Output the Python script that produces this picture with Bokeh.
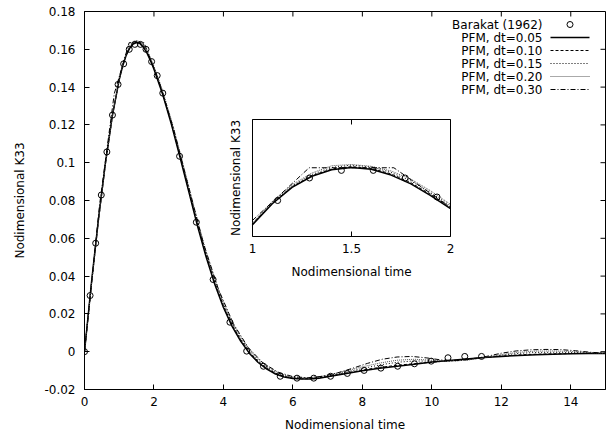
import math
from bokeh.plotting import figure
from bokeh.models import Range1d, FixedTicker
from bokeh.embed import file_html
from bokeh.resources import INLINE
from bokeh.core.properties import value

# ---------------- data ----------------
barakat_t = [0.0, 0.161, 0.322, 0.483, 0.644, 0.805, 0.966, 1.127, 1.288, 1.449,
             1.61, 1.771, 1.932, 2.093, 2.254, 2.737, 3.22, 3.703, 4.186, 4.669,
             5.152, 5.635, 6.118, 6.601, 7.084, 7.567, 8.05, 8.533, 9.016, 9.499,
             9.982, 10.465, 10.948, 11.431]
barakat_k33 = [0.0, 0.0297, 0.0574, 0.0829, 0.1057, 0.1252, 0.1414, 0.1523, 0.1600, 0.1626,
               0.1626, 0.1600, 0.1535, 0.1461, 0.1368, 0.1034, 0.0685, 0.0382, 0.0156, 0.0003,
               -0.0077, -0.0130, -0.0140, -0.0140, -0.0130, -0.0115, -0.0099, -0.0087, -0.0077, -0.0064,
               -0.0050, -0.0032, -0.0025, -0.0025]

pfm_t = [0.0, 0.2, 0.4, 0.6, 0.8,
         1.0, 1.1, 1.2, 1.3, 1.4, 1.5, 1.6, 1.7, 1.8, 1.9, 2.0,
         2.25, 2.5, 2.75, 3.0, 3.25, 3.5, 3.75, 4.0, 4.25, 4.5, 4.75, 5.0, 5.25, 5.5, 5.75,
         6.0, 6.25, 6.5, 6.75, 7.0,
         7.5, 8.0, 8.5, 9.0, 9.5, 10.0, 10.5, 11.0, 11.5, 12.0, 12.5, 13.0, 13.5, 14.0, 14.5, 15.0]
pfm_dt005 = [0.0, 0.0365, 0.0698, 0.0995, 0.1246,
             0.1440, 0.1512, 0.1568, 0.1606, 0.1628, 0.1636, 0.1630, 0.1610, 0.1580, 0.1540, 0.1495,
             0.1362, 0.1204, 0.1029, 0.0848, 0.0667, 0.0502, 0.0357, 0.0234, 0.0134, 0.0055, -0.0009,
             -0.0057, -0.0092, -0.0118, -0.0134, -0.0142, -0.0145, -0.0144, -0.0140, -0.0133,
             -0.0117, -0.0101, -0.0088, -0.0077, -0.0066, -0.0055, -0.0046, -0.0038, -0.0031, -0.0025,
             -0.0020, -0.0016, -0.0013, -0.0011, -0.0010, -0.0009]
pfm_dt010 = [0.0, 0.0360, 0.0693, 0.0991, 0.1243,
             0.1442, 0.1514, 0.1570, 0.1608, 0.1631, 0.1639, 0.1633, 0.1614, 0.1584, 0.1544, 0.1499,
             0.1367, 0.1210, 0.1036, 0.0856, 0.0676, 0.0511, 0.0366, 0.0243, 0.0142, 0.0063, -0.0002,
             -0.0051, -0.0087, -0.0114, -0.0131, -0.0140, -0.0143, -0.0143, -0.0138, -0.0131,
             -0.0114, -0.0097, -0.0083, -0.0072, -0.0063, -0.0056, -0.0048, -0.0039, -0.0030, -0.0023,
             -0.0017, -0.0013, -0.0011, -0.0010, -0.0009, -0.0009]
pfm_dt015 = [0.0, 0.0356, 0.0690, 0.0989, 0.1242,
             0.1444, 0.1517, 0.1573, 0.1612, 0.1636, 0.1644, 0.1638, 0.1619, 0.1590, 0.1550, 0.1505,
             0.1374, 0.1219, 0.1046, 0.0866, 0.0687, 0.0521, 0.0376, 0.0252, 0.0150, 0.0070, 0.0006,
             -0.0044, -0.0081, -0.0109, -0.0127, -0.0137, -0.0141, -0.0140, -0.0135, -0.0128,
             -0.0109, -0.0089, -0.0070, -0.0056, -0.0049, -0.0050, -0.0051, -0.0044, -0.0032, -0.0019,
             -0.0009, -0.0004, -0.0003, -0.0004, -0.0006, -0.0008]
pfm_dt020 = [0.0, 0.0352, 0.0687, 0.0988, 0.1242,
             0.1446, 0.1520, 0.1577, 0.1617, 0.1642, 0.1646, 0.1640, 0.1624, 0.1596, 0.1556, 0.1510,
             0.1381, 0.1227, 0.1055, 0.0875, 0.0697, 0.0531, 0.0385, 0.0260, 0.0157, 0.0077, 0.0012,
             -0.0038, -0.0076, -0.0104, -0.0123, -0.0134, -0.0138, -0.0137, -0.0132, -0.0124,
             -0.0103, -0.0080, -0.0060, -0.0045, -0.0040, -0.0045, -0.0050, -0.0045, -0.0031, -0.0015,
             -0.0003, 0.0003, 0.0004, 0.0001, -0.0004, -0.0008]
pfm30_t = [0.0, 0.429, 0.857, 1.0, 1.286, 1.714, 2.0, 2.143, 2.571, 3.0, 3.429, 3.857, 4.286,
           4.714, 5.143, 5.571, 6.0, 6.429, 6.857, 7.286, 7.714, 8.143, 8.571, 9.0, 9.429,
           9.857, 10.286, 10.714, 11.143, 11.571, 12.0, 12.429, 12.857, 13.286, 13.714,
           14.143, 14.571, 15.0]
pfm_dt030 = [0.0, 0.0770, 0.1365, 0.1455, 0.1635, 0.1635, 0.1500, 0.1432, 0.1175, 0.0870,
             0.0570, 0.0330, 0.0148, 0.0022, -0.0060, -0.0108, -0.0132, -0.0138, -0.0130,
             -0.0112, -0.0088, -0.0062, -0.0040, -0.0028, -0.0025, -0.0033, -0.0044, -0.0047,
             -0.0040, -0.0025, -0.0008, 0.0004, 0.0010, 0.0012, 0.0011, 0.0005, -0.0003, -0.0008]

legend_labels = ["Barakat (1962)", "PFM, dt=0.05", "PFM, dt=0.10",
                 "PFM, dt=0.15", "PFM, dt=0.20", "PFM, dt=0.30"]

x_ticks = [0, 2, 4, 6, 8, 10, 12, 14]
x_tick_labels = ["0", "2", "4", "6", "8", "10", "12", "14"]
y_ticks = [-0.02, 0.0, 0.02, 0.04, 0.06, 0.08, 0.1, 0.12, 0.14, 0.16, 0.18]
y_tick_labels = ["-0.02", "0", "0.02", "0.04", "0.06", "0.08", "0.1", "0.12", "0.14", "0.16", "0.18"]
inset_ticks = [1.0, 1.5, 2.0]
inset_tick_labels = ["1", "1.5", "2"]

x_title = "Nodimensional time"
y_title = "Nodimensional K33"

X_LIM = (0.0, 15.0)
Y_LIM = (-0.02, 0.18)
INSET_XLIM = (1.0, 2.0)
INSET_YLIM = (0.14, 0.18)

# ---------------- layout / style constants ----------------
W, H = 613, 438
FL, FR, FT, FB = 84, 605, 11, 389          # main frame, canvas pixels
IL, IR, IT, IB = 252, 450, 119, 236         # inset frame, canvas pixels
FONT = "DejaVu Sans"
FS = "12px"
TICK = 5

series = [
    (pfm_t, pfm_dt005, dict(line_width=1.5, line_dash="solid", line_color="black")),
    (pfm_t, pfm_dt010, dict(line_width=1.0, line_dash="3 2", line_color="black")),
    (pfm_t, pfm_dt015, dict(line_width=1.0, line_dash="1 2", line_color="black")),
    (pfm_t, pfm_dt020, dict(line_width=1.0, line_dash="1 1", line_color="#555555")),
    (pfm30_t, pfm_dt030, dict(line_width=1.0, line_dash="5 2 1 2", line_color="black")),
]

p = figure(width=W, height=H, output_backend="svg", toolbar_location=None,
           x_range=Range1d(*X_LIM), y_range=Range1d(*Y_LIM),
           min_border_left=FL, min_border_right=W - FR,
           min_border_top=FT, min_border_bottom=H - FB)
p.background_fill_color = "white"
p.border_fill_color = "white"
p.outline_line_color = "black"
p.outline_line_width = 1
p.outline_line_alpha = 1.0
p.xgrid.visible = False
p.ygrid.visible = False

def style_axis(ax, ticks, labels):
    ax.ticker = FixedTicker(ticks=ticks)
    ax.major_tick_in = TICK
    ax.major_tick_out = 0
    ax.major_tick_line_color = "black"
    ax.minor_tick_line_color = None
    ax.major_label_text_font = FONT
    ax.major_label_text_font_size = FS
    ax.major_label_text_color = "black"
    ax.major_label_overrides = dict(zip(ticks, labels))
    ax.axis_line_color = "black"
    ax.axis_label_text_font = FONT
    ax.axis_label_text_font_size = FS
    ax.axis_label_text_font_style = "normal"
    ax.axis_label_text_color = "black"

xa = p.xaxis[0]
ya = p.yaxis[0]
style_axis(xa, x_ticks, x_tick_labels)
style_axis(ya, y_ticks, y_tick_labels)
xa.axis_label = x_title
ya.axis_label = y_title
xa.major_label_standoff = 7
xa.axis_label_standoff = 9
ya.major_label_standoff = 9
ya.axis_label_standoff = 14

# mirrored inward ticks on the top and right borders
nx, ny = len(x_ticks), len(y_ticks)
p.ray(x=x_ticks, y=[Y_LIM[1]] * nx, length=TICK, length_units="screen",
      angle=[-math.pi / 2] * nx, line_color="black", line_width=1)
p.ray(x=[X_LIM[1]] * ny, y=y_ticks, length=TICK, length_units="screen",
      angle=[math.pi] * ny, line_color="black", line_width=1)

# extra ranges: canvas pixel space and inset data space
ixs = (INSET_XLIM[1] - INSET_XLIM[0]) / (IR - IL)
iys = (INSET_YLIM[1] - INSET_YLIM[0]) / (IB - IT)
p.extra_x_ranges = {
    "px": Range1d(FL, FR),
    "ix": Range1d(INSET_XLIM[0] - (IL - FL) * ixs, INSET_XLIM[1] + (FR - IR) * ixs),
}
p.extra_y_ranges = {
    "py": Range1d(FB, FT),
    "iy": Range1d(INSET_YLIM[0] - (FB - IB) * iys, INSET_YLIM[1] + (IT - FT) * iys),
}

# ---------------- main plot ----------------
for t, k, st in series:
    p.line(t, k, **st)
p.scatter(barakat_t, barakat_k33, marker="circle", size=6, fill_color=None,
          line_color="black", line_width=1)

# ---------------- inset ----------------
IR_KW = dict(x_range_name="ix", y_range_name="iy")
p.quad(left=[INSET_XLIM[0]], right=[INSET_XLIM[1]], bottom=[INSET_YLIM[0]], top=[INSET_YLIM[1]],
       fill_color="white", line_color="black", line_width=1, **IR_KW)

def in_inset(t, k):
    pts = [(a, b) for a, b in zip(t, k) if INSET_XLIM[0] <= a <= INSET_XLIM[1]]
    return [a for a, _ in pts], [b for _, b in pts]

for t, k, st in series:
    it, ik = in_inset(t, k)
    p.line(it, ik, **st, **IR_KW)
bt, bk = in_inset(barakat_t, barakat_k33)
p.scatter(bt, bk, marker="circle", size=6, fill_color=None, line_color="black",
          line_width=1, **IR_KW)

n = len(inset_ticks)
p.ray(x=inset_ticks + inset_ticks, y=[INSET_YLIM[0]] * n + [INSET_YLIM[1]] * n,
      length=TICK, length_units="screen",
      angle=[math.pi / 2] * n + [-math.pi / 2] * n,
      line_color="black", line_width=1, **IR_KW)
p.text(x=inset_ticks, y=[INSET_YLIM[0]] * n, text=inset_tick_labels,
       text_align="center", text_baseline="middle", y_offset=12,
       text_font=value(FONT), text_font_size=value(FS), text_color="black", **IR_KW)

PX_KW = dict(x_range_name="px", y_range_name="py")
p.text(x=[(IL + IR) / 2], y=[IB + 35], text=[x_title], text_align="center",
       text_baseline="middle", text_font=value(FONT), text_font_size=value(FS),
       text_color="black", **PX_KW)
p.text(x=[IL - 17], y=[(IT + IB) / 2], text=[y_title], angle=math.pi / 2,
       text_align="center", text_baseline="middle", text_font=value(FONT),
       text_font_size=value(FS), text_color="black", **PX_KW)

# ---------------- legend (gnuplot style: text right, sample on the right) ----------------
LEG_TX, LEG_X0, LEG_X1, LEG_Y0, LEG_DY = 542, 550, 589, 24, 13
rows_y = [LEG_Y0 + i * LEG_DY for i in range(len(legend_labels))]
p.text(x=[LEG_TX] * len(legend_labels), y=rows_y, text=legend_labels,
       text_align="right", text_baseline="middle", text_font=value(FONT),
       text_font_size=value(FS), text_color="black", **PX_KW)
p.scatter([(LEG_X0 + LEG_X1) / 2], [rows_y[0]], marker="circle", size=6, fill_color=None,
          line_color="black", line_width=1, **PX_KW)
for i, (_, _, st) in enumerate(series):
    yy = rows_y[i + 1]
    p.line([LEG_X0, LEG_X1], [yy, yy], **st, **PX_KW)

open("out.html", "w").write(file_html(p, INLINE))
